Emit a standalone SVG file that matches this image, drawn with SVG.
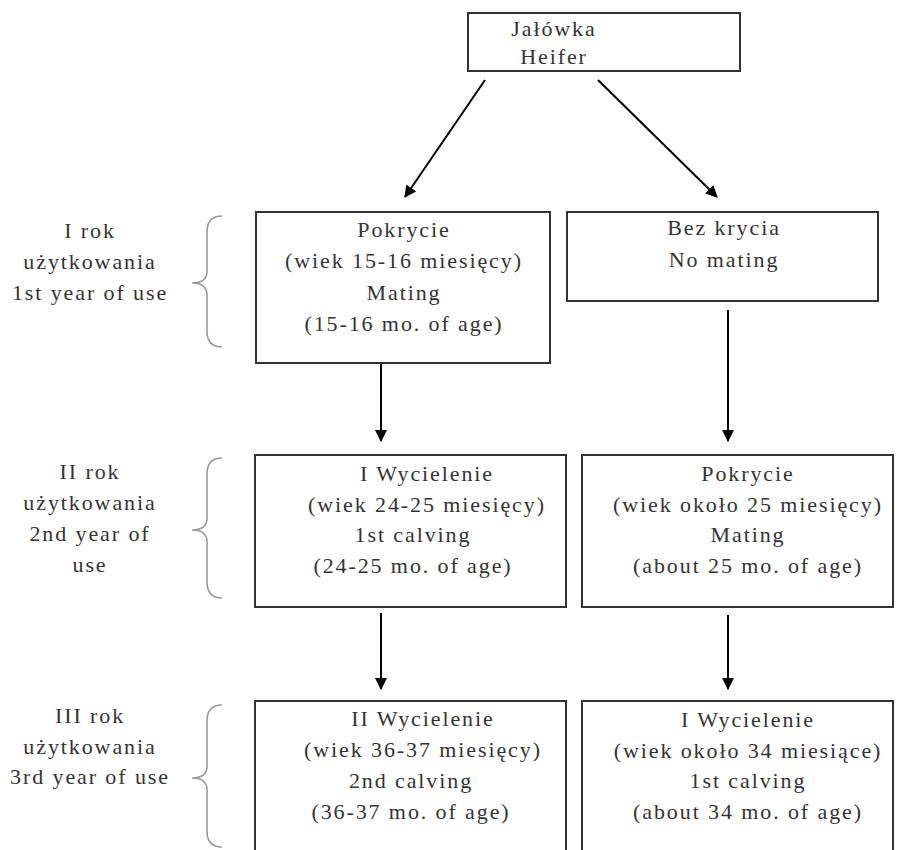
<svg xmlns="http://www.w3.org/2000/svg" width="901" height="850" viewBox="0 0 901 850">
<style>
  .box { fill: #fff; stroke: #333; stroke-width: 2; }
  .t { font-family: "Liberation Serif", "Times New Roman", serif; font-size: 22px; letter-spacing: 1.9px; fill: #333; text-anchor: middle; }
  .conn { stroke: #000; stroke-width: 2; fill: none; }
  .brace { stroke: #999; stroke-width: 1.6; fill: none; }
</style>
<defs>
  <marker id="ah" viewBox="0 0 12 12" refX="11" refY="6" markerWidth="12" markerHeight="12" markerUnits="userSpaceOnUse" orient="auto">
    <path d="M0,0 L12,6 L0,12 z" fill="#000"/>
  </marker>
</defs>
<rect width="901" height="850" fill="#fff"/>

<g id="connectors">
  <line class="conn" x1="485" y1="80" x2="405" y2="197" marker-end="url(#ah)"/>
  <line class="conn" x1="598" y1="80" x2="717" y2="197" marker-end="url(#ah)"/>
  <line class="conn" x1="381" y1="364" x2="381" y2="441" marker-end="url(#ah)"/>
  <line class="conn" x1="728" y1="310" x2="728" y2="441" marker-end="url(#ah)"/>
  <line class="conn" x1="381" y1="613" x2="381" y2="689" marker-end="url(#ah)"/>
  <line class="conn" x1="728" y1="615" x2="728" y2="689" marker-end="url(#ah)"/>
</g>

<g id="braces">
  <path class="brace" d="M222,216 C211,216 207,222 207,232 L207,271 C207,279 202,283 192,283 C202,283 207,287 207,295 L207,331 C207,341 211,347 222,347"/>
  <path class="brace" d="M222,458 C211,458 207,464 207,474 L207,518 C207,526 202,530 192,530 C202,530 207,534 207,542 L207,582 C207,592 211,598 222,598"/>
  <path class="brace" d="M222,705 C211,705 207,711 207,721 L207,766 C207,774 202,778 192,778 C202,778 207,782 207,790 L207,831 C207,841 211,847 222,847"/>
</g>

<g id="label-year1">
  <text class="t" x="90" y="238">I rok</text>
  <text class="t" x="90" y="269">użytkowania</text>
  <text class="t" x="90" y="300">1st year of use</text>
</g>
<g id="label-year2">
  <text class="t" x="90" y="479">II rok</text>
  <text class="t" x="90" y="510">użytkowania</text>
  <text class="t" x="90" y="541">2nd year of</text>
  <text class="t" x="90" y="572">use</text>
</g>
<g id="label-year3">
  <text class="t" x="90" y="723">III rok</text>
  <text class="t" x="90" y="754">użytkowania</text>
  <text class="t" x="90" y="784">3rd year of use</text>
</g>

<g id="n-heifer">
  <rect class="box" x="468" y="13" width="272" height="58"/>
  <text class="t" x="554" y="36">Jałówka</text>
  <text class="t" x="554" y="64">Heifer</text>
</g>

<g id="n-mating1">
  <rect class="box" x="256" y="212" width="294" height="151"/>
  <text class="t" x="404" y="237">Pokrycie</text>
  <text class="t" x="404" y="268">(wiek 15-16 miesięcy)</text>
  <text class="t" x="404" y="300">Mating</text>
  <text class="t" x="404" y="331">(15-16 mo. of age)</text>
</g>

<g id="n-nomating">
  <rect class="box" x="567" y="212" width="311" height="89"/>
  <text class="t" x="724" y="235">Bez krycia</text>
  <text class="t" x="724" y="267">No mating</text>
</g>

<g id="n-calving1">
  <rect class="box" x="255" y="455" width="311" height="152"/>
  <text class="t" x="427" y="481">I Wycielenie</text>
  <text class="t" x="427" y="512">(wiek 24-25 miesięcy)</text>
  <text class="t" x="413" y="542">1st calving</text>
  <text class="t" x="413" y="573">(24-25 mo. of age)</text>
</g>

<g id="n-mating2">
  <rect class="box" x="582" y="455" width="311" height="152"/>
  <text class="t" x="748" y="481">Pokrycie</text>
  <text class="t" x="748" y="512">(wiek około 25 miesięcy)</text>
  <text class="t" x="748" y="542">Mating</text>
  <text class="t" x="748" y="573">(about 25 mo. of age)</text>
</g>

<g id="n-calving2">
  <rect class="box" x="255" y="701" width="311" height="160"/>
  <text class="t" x="423" y="726">II Wycielenie</text>
  <text class="t" x="423" y="757">(wiek 36-37 miesięcy)</text>
  <text class="t" x="411" y="788">2nd calving</text>
  <text class="t" x="411" y="819">(36-37 mo. of age)</text>
</g>

<g id="n-calving1b">
  <rect class="box" x="582" y="701" width="311" height="160"/>
  <text class="t" x="748" y="727">I Wycielenie</text>
  <text class="t" x="748" y="758">(wiek około 34 miesiące)</text>
  <text class="t" x="748" y="788">1st calving</text>
  <text class="t" x="748" y="819">(about 34 mo. of age)</text>
</g>
</svg>
